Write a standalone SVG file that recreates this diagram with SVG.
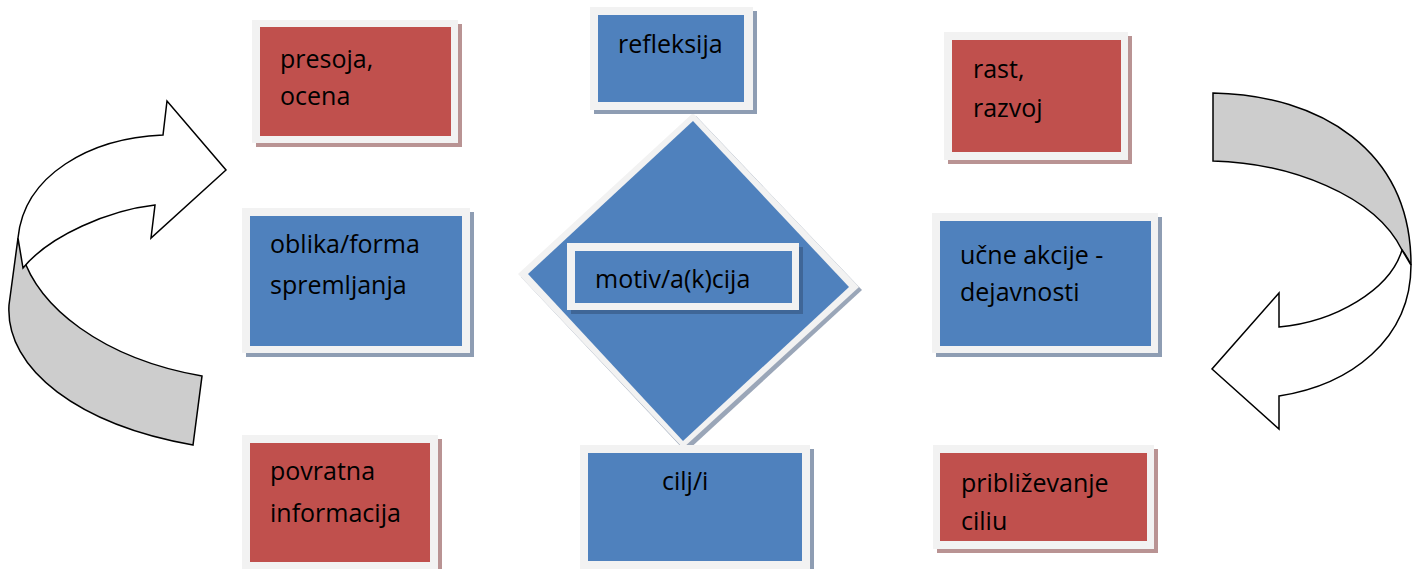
<svg xmlns="http://www.w3.org/2000/svg" width="1414" height="569" viewBox="0 0 1414 569">
<style>
.frame{fill:#f2f2f2}
.red{fill:#c0504d}
.blue{fill:#4f81bd}
.shr{fill:#b99393}
.shb{fill:#8e9db3}
.t{font-family:"Open Sans","Noto Sans","Liberation Sans",sans-serif;font-size:25px;fill:#000}
.arr{fill:#fff;stroke:#000;stroke-width:1.5;stroke-linejoin:miter}
.band{fill:#cdcdcd;stroke:#000;stroke-width:1.5}
</style>
<rect width="1414" height="569" fill="#fff"/>
<g id="connectors">
  <path class="band" d="M18,238 L9,305 C5,370 80,425 193,445 L202,376 C110,360 30,310 18,238 Z"/>
  <path class="arr" d="M18,238 C24,175 90,138 163,135 L167,101 L226,170 L151,238 L155,205 C110,210 50,235 23,268 Z"/>
  <path class="band" d="M1213,93 C1320,95 1411,150 1411,265 C1408,258 1405,254 1402,250 C1375,195 1290,163 1213,161 Z"/>
  <path class="arr" d="M1402,250 C1390,290 1335,322 1279,327 L1279,293 L1212,369 L1279,429 L1279,396 C1350,385 1411,340 1411,265 Z"/>
</g>
<g id="node-motiv-diamond">
  <polygon points="696,116 862,290 686,452 521,277" fill="#9aa6b8"/>
  <polygon class="frame" points="693,113 859,287 683,448 518,274"/>
  <polygon class="blue" points="693,121 849,287 683,441 528,274"/>
  <rect x="571" y="247" width="232" height="67" fill="#3f6697"/>
  <rect class="frame" x="567" y="243" width="232" height="67"/>
  <rect class="blue" x="575" y="251" width="217" height="52"/>
  <text class="t" x="595" y="288">motiv/a(k)cija</text>
</g>
<g id="node-presoja">
  <rect class="shr" x="256" y="24" width="206" height="123"/>
  <rect class="frame" x="252" y="20" width="206" height="123"/>
  <rect class="red" x="260" y="27" width="191" height="109"/>
  <text class="t" x="280" y="68">presoja,</text>
  <text class="t" x="280" y="105">ocena</text>
</g>
<g id="node-refleksija">
  <rect class="shb" x="594" y="11" width="163" height="103"/>
  <rect class="frame" x="590" y="7" width="163" height="103"/>
  <rect class="blue" x="598" y="15" width="146" height="87"/>
  <text class="t" x="618" y="53">refleksija</text>
</g>
<g id="node-rast">
  <rect class="shr" x="948" y="36" width="184" height="128"/>
  <rect class="frame" x="944" y="32" width="184" height="128"/>
  <rect class="red" x="952" y="40" width="169" height="112"/>
  <text class="t" x="973" y="78">rast,</text>
  <text class="t" x="973" y="117">razvoj</text>
</g>
<g id="node-oblika">
  <rect class="shb" x="246" y="212" width="228" height="145"/>
  <rect class="frame" x="242" y="208" width="228" height="145"/>
  <rect class="blue" x="250" y="216" width="212" height="130"/>
  <text class="t" x="270" y="253">oblika/forma</text>
  <text class="t" x="270" y="294">spremljanja</text>
</g>
<g id="node-ucne">
  <rect class="shb" x="936" y="217" width="226" height="140"/>
  <rect class="frame" x="932" y="213" width="226" height="140"/>
  <rect class="blue" x="940" y="221" width="211" height="125"/>
  <text class="t" x="960" y="264">učne akcije -</text>
  <text class="t" x="960" y="301">dejavnosti</text>
</g>
<g id="node-povratna">
  <rect class="shr" x="246" y="439" width="196" height="134"/>
  <rect class="frame" x="242" y="435" width="196" height="134"/>
  <rect class="red" x="250" y="443" width="180" height="119"/>
  <text class="t" x="270" y="480">povratna</text>
  <text class="t" x="270" y="522">informacija</text>
</g>
<g id="node-cilj">
  <rect class="shb" x="584" y="449" width="230" height="124"/>
  <rect class="frame" x="580" y="445" width="230" height="124"/>
  <rect class="blue" x="588" y="453" width="214" height="108"/>
  <text class="t" x="662" y="490">cilj/i</text>
</g>
<g id="node-priblizevanje">
  <rect class="shr" x="937" y="449" width="221" height="104"/>
  <rect class="frame" x="933" y="445" width="221" height="104"/>
  <rect class="red" x="940" y="453" width="207" height="88"/>
  <text class="t" x="961" y="492">približevanje</text>
  <text class="t" x="961" y="530">ciliu</text>
</g>
</svg>
